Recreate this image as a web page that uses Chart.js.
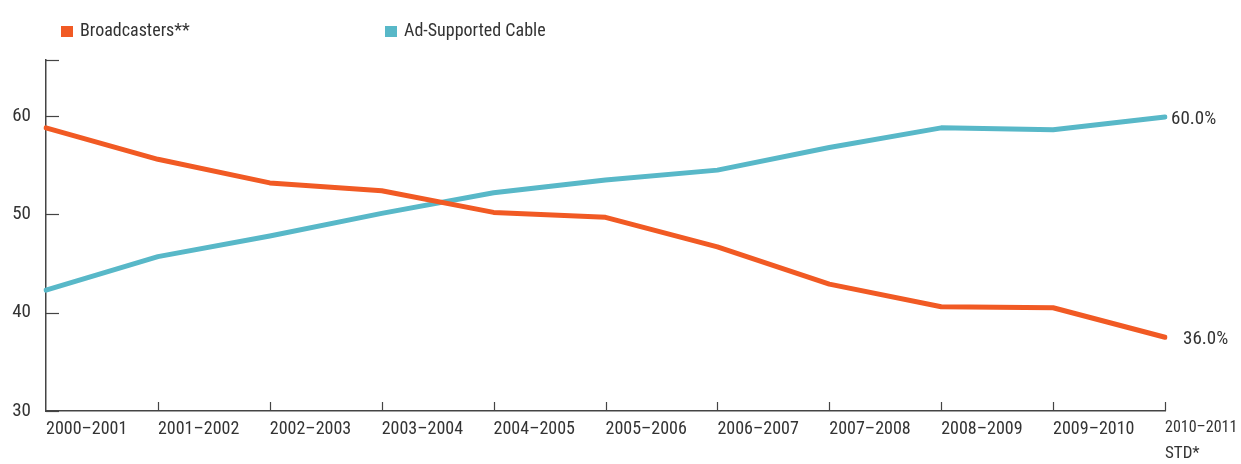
<!DOCTYPE html>
<html>
<head>
<meta charset="utf-8">
<script src="https://cdn.jsdelivr.net/npm/chart.js@4.4.0/dist/chart.umd.min.js"></script>
<style>
  body { margin: 0; background: #fff; }
  #wrap { position: relative; width: 1241px; height: 464px; }
  #legend { position: absolute; left: 61px; top: 19px; display: flex; font-family: 'Roboto Condensed', 'DejaVu Sans Condensed', sans-serif; font-size: 18px; color: #333; }
  .item { display: flex; align-items: center; }
  .item span.box { display: inline-block; width: 12px; height: 11px; margin: 3px 7px 0 0; }
</style>
</head>
<body>
<div id="wrap">
  <canvas id="grafico" width="1241" height="464"></canvas>
  <div id="legend"></div>
</div>
<script>
// datos
const temporadas = ['2000–2001', '2001–2002', '2002–2003', '2003–2004', '2004–2005', '2005–2006',
  '2006–2007', '2007–2008', '2008–2009', '2009–2010', ['2010–2011', 'STD*']];
const broadcasters = [58.8, 55.6, 53.2, 52.4, 50.2, 49.7, 46.7, 42.9, 40.6, 40.5, 37.5];
const cable = [42.3, 45.7, 47.8, 50.1, 52.2, 53.5, 54.5, 56.8, 58.8, 58.6, 59.9];
const nombres = ['Broadcasters**', 'Ad-Supported Cable'];
const etiquetasFinales = ['36.0%', '60.0%'];
const yTicks = [30, 40, 50, 60];

const colores = ['#f15a24', '#58b8c8'];
const fuente = "'Roboto Condensed', 'DejaVu Sans Condensed', sans-serif";

// leyenda html
const legend = document.getElementById('legend');
const anchos = [324, 300];
nombres.forEach(function(n, i) {
  const d = document.createElement('div');
  d.className = 'item';
  d.style.width = anchos[i] + 'px';
  d.innerHTML = '<span class="box" style="background:' + colores[i] + '"></span>' + n;
  legend.appendChild(d);
});

// marcas de los ejes hacia adentro, segunda linea de la ultima etiqueta y etiquetas finales
const marcasPlugin = {
  id: 'marcas',
  afterDatasetsDraw(chart) {
    const c = chart.ctx;
    const x = chart.scales.x, y = chart.scales.y;
    const area = chart.chartArea;
    c.save();
    c.strokeStyle = '#444';
    c.lineWidth = 1.2;
    yTicks.concat([y.max]).forEach(function(v) {
      const py = Math.round(y.getPixelForValue(v)) + 0.5;
      c.beginPath(); c.moveTo(area.left, py); c.lineTo(area.left + 13, py); c.stroke();
    });
    for (let i = 1; i < temporadas.length; i++) {
      const px = Math.round(x.getPixelForValue(i)) + 0.5;
      c.beginPath(); c.moveTo(px, area.bottom); c.lineTo(px, area.bottom - 9); c.stroke();
    }
    c.fillStyle = '#333';
    c.textBaseline = 'middle';
    // lineas extra de las etiquetas del eje x
    c.font = '17px ' + fuente;
    temporadas.forEach(function(t, i) {
      if (!Array.isArray(t)) return;
      t.slice(1).forEach(function(linea, k) {
        c.fillText(linea, x.getPixelForValue(i), area.bottom + 18 + 25 * (k + 1));
      });
    });
    c.font = '19px ' + fuente;
    const desplaz = [18, 6];
    chart.data.datasets.forEach(function(ds, i) {
      const meta = chart.getDatasetMeta(i);
      const p = meta.data[meta.data.length - 1];
      c.fillText(etiquetasFinales[i], p.x + desplaz[i], p.y + 2);
    });
    c.restore();
  }
};

const GraficoLineal = new Chart(document.getElementById('grafico'), {
  type: 'line',
  data: {
    labels: temporadas,
    datasets: [{
      label: nombres[0],
      data: broadcasters,
      borderColor: colores[0],
      borderWidth: 5,
      pointRadius: 0,
      borderCapStyle: 'round',
      borderJoinStyle: 'round',
      tension: 0
    }, {
      label: nombres[1],
      data: cable,
      borderColor: colores[1],
      borderWidth: 5,
      pointRadius: 0,
      borderCapStyle: 'round',
      borderJoinStyle: 'round',
      tension: 0
    }]
  },
  options: {
    responsive: false,
    animation: false,
    layout: { padding: { top: 60, left: 0, right: 76, bottom: 0 } },
    plugins: { legend: { display: false }, tooltip: { enabled: false } },
    scales: {
      x: {
        offset: false,
        grid: { display: false, drawTicks: false },
        border: { display: true, color: '#444', width: 1.5 },
        ticks: {
          align: 'start', padding: 6, color: '#333', maxRotation: 0, autoSkip: false,
          callback: function(v, i) {
            const t = temporadas[i];
            return Array.isArray(t) ? t[0] : t;
          },
          font: function(ctx) {
            const ultimo = ctx.index === temporadas.length - 1;
            return { family: fuente, size: ultimo ? 16 : 18, lineHeight: 1.35 };
          }
        },
        afterFit: function(scale) { scale.height = 53; scale.paddingRight = 0; scale.paddingLeft = 0; }
      },
      y: {
        min: 30,
        max: 65.7,
        grid: { display: false, drawTicks: false },
        border: { display: true, color: '#444', width: 1.5 },
        ticks: { padding: 15, color: '#333', font: { family: fuente, size: 19 } },
        afterBuildTicks: function(scale) { scale.ticks = yTicks.map(function(v) { return { value: v }; }); },
        afterFit: function(scale) { scale.width = 46; }
      }
    }
  },
  plugins: [marcasPlugin]
});
</script>
</body>
</html>
